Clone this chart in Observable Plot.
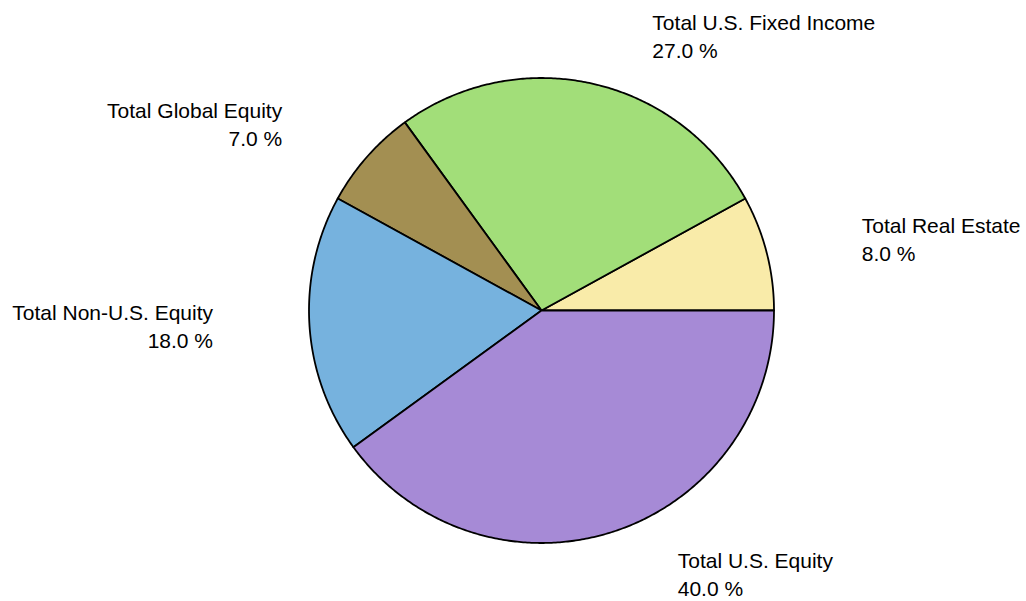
<!DOCTYPE html>
<html>
<head>
<meta charset="utf-8">
<script src="https://cdn.jsdelivr.net/npm/d3@7"></script>
<script src="https://cdn.jsdelivr.net/npm/@observablehq/plot@0.6"></script>
<style>
  html, body { margin: 0; padding: 0; background: #fff; }
  #chart svg { display: block; }
</style>
</head>
<body>
<div id="chart"></div>
<script>
// Data (counterclockwise from 3 o'clock)
const categories = ["Total Real Estate", "Total U.S. Fixed Income", "Total Global Equity", "Total Non-U.S. Equity", "Total U.S. Equity"];
const shares = [8.0, 27.0, 7.0, 18.0, 40.0];
const colors = ["#F9EBA9", "#A2DE79", "#A38F52", "#76B2DE", "#A68AD6"];

const W = 1026, H = 601;
const R = 232.5, cx = 541, cy = 310;
const labelR = 1.2;

const total = d3.sum(shares);
const ends = d3.cumsum(shares);
const slices = categories.map((name, i) => {
  const a0 = ((ends[i] - shares[i]) / total) * 2 * Math.PI;
  const a1 = (ends[i] / total) * 2 * Math.PI;
  return {name, value: shares[i], color: colors[i], a0, a1, mid: (a0 + a1) / 2};
});

// polygon vertices for each slice (center -> arc -> center)
const verts = [];
for (const s of slices) {
  verts.push({name: s.name, color: s.color, x: 0, y: 0});
  const n = Math.max(2, Math.ceil((s.a1 - s.a0) / (Math.PI / 360)));
  for (let k = 0; k <= n; k++) {
    const a = s.a0 + (s.a1 - s.a0) * k / n;
    verts.push({name: s.name, color: s.color, x: Math.cos(a), y: Math.sin(a)});
  }
  verts.push({name: s.name, color: s.color, x: 0, y: 0});
}

const labels = slices.map(s => ({
  x: labelR * Math.cos(s.mid),
  y: labelR * Math.sin(s.mid),
  right: Math.cos(s.mid) >= 0,
  text: `${s.name}\n${s.value.toFixed(1)} %`
}));

const plot = Plot.plot({
  width: W,
  height: H,
  margin: 0,
  style: {fontFamily: "'Liberation Sans', Arial, sans-serif", background: "#fff"},
  x: {domain: [-cx / R, (W - cx) / R], axis: null},
  y: {domain: [-(H - cy) / R, cy / R], axis: null},
  marks: [
    Plot.line(verts, {x: "x", y: "y", z: "name", fill: "color", stroke: "#000", strokeWidth: 1.8, strokeLinejoin: "round", curve: "linear"}),
    Plot.text(labels.filter(d => d.right), {x: "x", y: "y", text: "text", textAnchor: "start", dx: 50, dy: -3, lineAnchor: "middle", lineHeight: 1.33, fontSize: 21, fill: "#000"}),
    Plot.text(labels.filter(d => !d.right), {x: "x", y: "y", text: "text", textAnchor: "end", dx: -50, dy: -3, lineAnchor: "middle", lineHeight: 1.33, fontSize: 21, fill: "#000"})
  ]
});
document.getElementById("chart").appendChild(plot);
</script>
</body>
</html>
